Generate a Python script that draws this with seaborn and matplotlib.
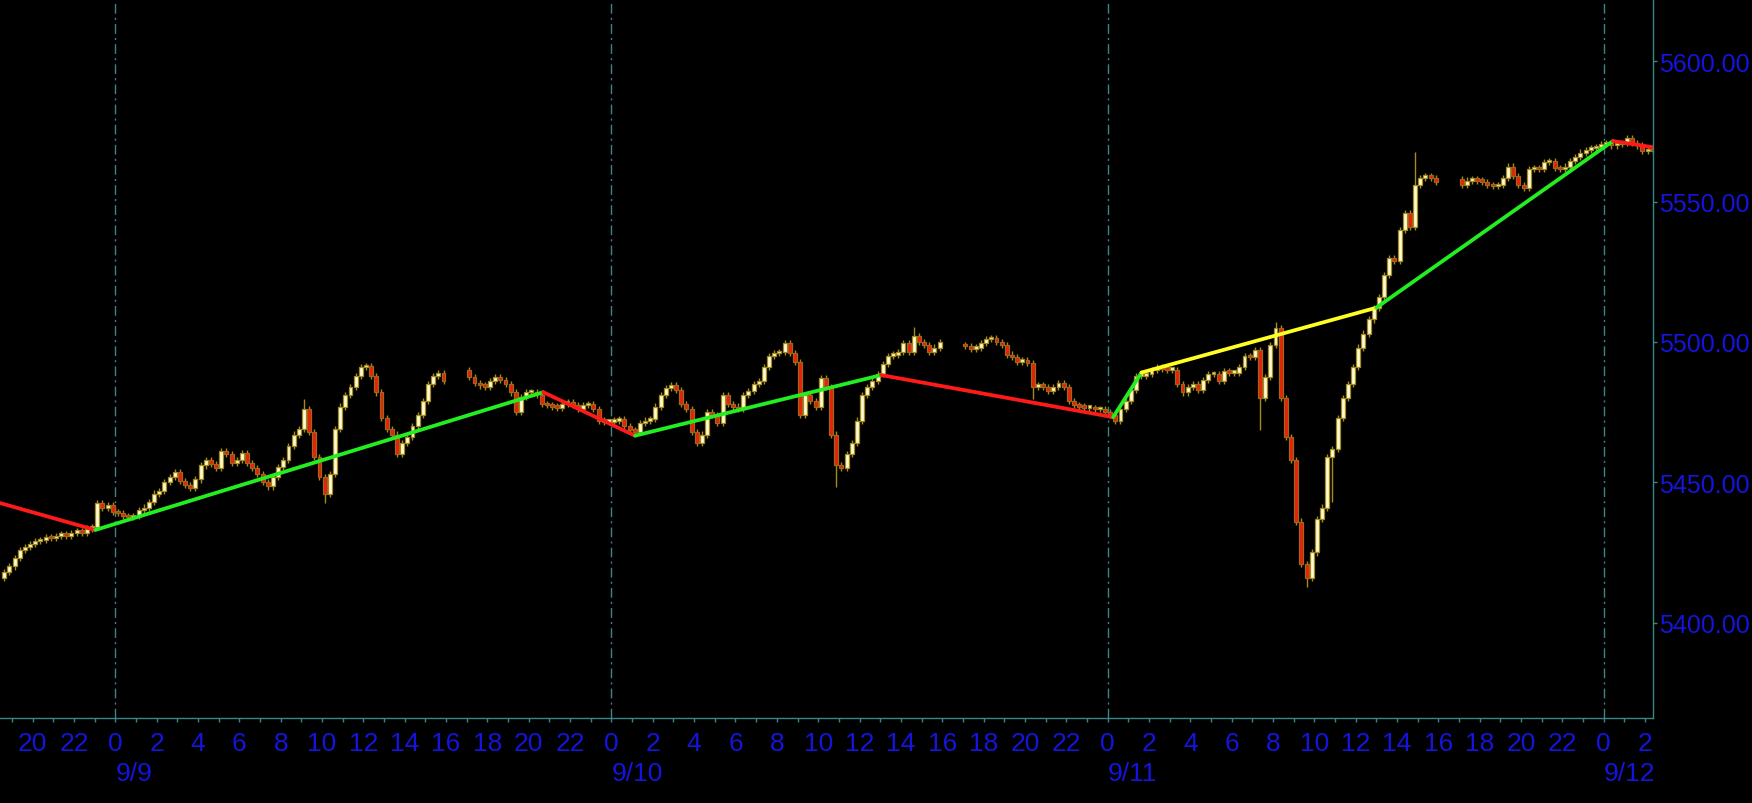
import numpy as np
import pandas as pd
import matplotlib
matplotlib.use("Agg")
import matplotlib.pyplot as plt
import seaborn as sns
from matplotlib import font_manager

# Temps en heures depuis le 9/9 00:00, barres de 15 minutes
SESSION_STARTS = [-5.5, 17.0, 41.0, 65.0]
SESSION_OPENS = [5416.0, 5490.0, 5499.0, 5558.0]

CLOSES_S1 = [
    5418, 5420, 5423, 5426, 5427, 5428, 5429, 5429.5,
    5430.5, 5430, 5431, 5431.5, 5431, 5432, 5432.5, 5432,
    5433.5, 5434, 5442.5, 5441, 5442, 5439.5, 5439, 5438,
    5437.5, 5438, 5440, 5441, 5443, 5446, 5447, 5450,
    5452, 5453.5, 5450.5, 5449, 5448, 5451, 5456, 5458,
    5456.5, 5455, 5461, 5460, 5457, 5458, 5460.5, 5457,
    5455, 5453, 5450, 5448.5, 5452, 5455.5, 5458, 5463,
    5467, 5469, 5476, 5468, 5459, 5452, 5446, 5453,
    5469, 5477, 5481, 5484, 5488, 5491, 5491.5, 5488,
    5482, 5473, 5469, 5467, 5460, 5464, 5466, 5470,
    5474, 5479, 5485, 5488, 5489, 5486,
]
CLOSES_S2 = [
    5487.5, 5485.5, 5484.5, 5484, 5486, 5487.5, 5486.5, 5485,
    5482, 5475, 5480.5, 5482, 5482, 5481, 5478, 5477.5,
    5477, 5476.5, 5478, 5478.5, 5477.5, 5476, 5477.5, 5478,
    5476, 5472, 5471.5, 5471.5, 5472, 5472.5, 5470, 5468.5,
    5468, 5471, 5472, 5472.5, 5477, 5481, 5483.5, 5484.5,
    5483, 5478, 5476, 5468, 5464, 5467, 5475, 5474,
    5471, 5481, 5478, 5477, 5476, 5481, 5482.5, 5485,
    5486, 5491, 5495, 5496, 5496.5, 5499.5, 5496, 5493,
    5474, 5481, 5479, 5477, 5487, 5484, 5467, 5456,
    5455, 5460, 5464, 5472, 5481, 5484, 5486, 5488.5,
    5492, 5495, 5495.5, 5496.5, 5499.5, 5496.5, 5502, 5500,
    5499, 5496.5, 5498, 5500,
]
CLOSES_S3 = [
    5498.5, 5497.5, 5498, 5499.5, 5501, 5501.5, 5500, 5499,
    5495.5, 5494.5, 5493, 5493.5, 5492.5, 5484, 5484.5, 5484,
    5482.5, 5484, 5485.5, 5484, 5479, 5477.5, 5477, 5476.5,
    5476.5, 5476, 5476, 5475, 5474, 5472, 5476, 5479,
    5483, 5488, 5488, 5488.5, 5490, 5491, 5490.5, 5490,
    5490, 5485, 5482, 5484, 5485, 5483, 5486.5, 5488.5,
    5488.5, 5486, 5489.5, 5489, 5489, 5491, 5495, 5494.5,
    5497, 5480, 5487.5, 5499, 5505, 5480, 5466, 5458,
    5436, 5421, 5416, 5425, 5437, 5441, 5459, 5462,
    5473, 5480, 5485, 5491, 5498, 5503, 5508, 5512,
    5516, 5524, 5530, 5529, 5540, 5546, 5541, 5556,
    5558.5, 5559, 5558.5, 5557,
]
CLOSES_S4 = [
    5556, 5557.5, 5558, 5557.5, 5557, 5556, 5555.5, 5556,
    5558.5, 5562.5, 5559, 5556, 5555, 5561.5, 5562, 5561.5,
    5564, 5564.5, 5562, 5561.5, 5562.5, 5564.5, 5566, 5567.5,
    5568.5, 5569, 5569.5, 5570.5, 5571, 5570, 5570.5, 5571,
    5572.5, 5571, 5570, 5568, 5568.5, 5568,
]

# Meches remarquables (fin de barre -> valeur)
HIGH_WICKS = {9.25: 5479.5, 38.75: 5505.5, 56.25: 5507.0, 63.0: 5567.6}
LOW_WICKS = {10.25: 5442.6, 35.0: 5448.4, 44.5: 5479.5, 55.5: 5468.6,
             57.75: 5412.7, 59.0: 5443.0}

# Zigzag
ZZ_TIMES = [-5.58, -0.97, 20.7, 25.14, 37.05, 48.27, 49.64, 61.0, 72.45, 74.45]
ZZ_VALUES = [5442.6, 5433.0, 5482.1, 5466.6, 5488.2, 5473.2, 5489.1, 5512.2, 5571.6, 5569.3]
ZZ_COLORS = ["#ff1a1a", "#22ee22", "#ff1a1a", "#22ee22", "#ff1a1a",
             "#22ee22", "#ffff22", "#22ee22", "#ff1a1a"]

MIDNIGHTS = [0, 24, 48, 72]
DATE_LABELS = ["9/9", "9/10", "9/11", "9/12"]
Y_TICKS = [5400, 5450, 5500, 5550, 5600]

BAR = 0.25
TEAL = "#3b8585"
BLUE = "#1414dc"
W, H = 1752, 804


def build_candles():
    rows = []
    for start, first_open, closes in zip(SESSION_STARTS, SESSION_OPENS,
                                         [CLOSES_S1, CLOSES_S2, CLOSES_S3, CLOSES_S4]):
        opens = [first_open] + closes[:-1]
        for i, (o, c) in enumerate(zip(opens, closes)):
            end = start + BAR * (i + 1)
            rows.append({"end": end, "mid": end - BAR / 2, "open": o, "close": c})
    df = pd.DataFrame(rows)
    top = df[["open", "close"]].max(axis=1)
    bot = df[["open", "close"]].min(axis=1)
    df["high"] = [HIGH_WICKS.get(round(e, 2), t + 1.1) for e, t in zip(df["end"], top)]
    df["low"] = [LOW_WICKS.get(round(e, 2), b - 1.1) for e, b in zip(df["end"], bot)]
    return df


def pick_font():
    names = {f.name for f in font_manager.fontManager.ttflist}
    for name in ["Liberation Sans", "DejaVu Sans"]:
        if name in names:
            return name
    return "DejaVu Sans"


sns.set_style("dark", rc={"axes.facecolor": "black", "figure.facecolor": "black",
                          "axes.grid": False})
font = pick_font()
plt.rcParams["font.family"] = [font, "DejaVu Sans"]

df = build_candles()

fig = plt.figure(figsize=(W / 100, H / 100), dpi=100)
ax = fig.add_axes([0, 1 - 719.3 / H, 1653.3 / W, 719.3 / H])
ax.set_facecolor("black")

for m in MIDNIGHTS:
    ax.axvline(m, color=TEAL, lw=1.0, linestyle=(0, (7, 3, 1.5, 3)), zorder=1)

# bougies
ax.vlines(df["mid"], df["low"], df["high"], color="#a48c1c", lw=1.0, zorder=2)
up = df["close"] >= df["open"]
body = (df["close"] - df["open"]).abs().clip(lower=0.9)
ax.bar(df["mid"][up], body[up], bottom=df["open"][up], width=0.19,
       color="#fffbd6", edgecolor="#a48c1c", linewidth=0.9, zorder=3)
ax.bar(df["mid"][~up], body[~up], bottom=df["close"][~up], width=0.19,
       color="#e8200c", edgecolor="#a0661a", linewidth=0.9, zorder=3)

# zigzag
zz_rows = []
for i in range(len(ZZ_COLORS)):
    zz_rows.append({"t": ZZ_TIMES[i], "v": ZZ_VALUES[i], "seg": i})
    zz_rows.append({"t": ZZ_TIMES[i + 1], "v": ZZ_VALUES[i + 1], "seg": i})
zz = pd.DataFrame(zz_rows)
sns.lineplot(data=zz, x="t", y="v", hue="seg", palette=dict(enumerate(ZZ_COLORS)),
             sort=False, estimator=None, legend=False, lw=2.7, ax=ax, zorder=4)

ax.set_xlim(-5.58, 74.40)
ax.set_ylim(5365.9, 5622.2)
ax.set_xlabel("")
ax.set_ylabel("")

for side in ["left", "top"]:
    ax.spines[side].set_visible(False)
for side in ["right", "bottom"]:
    ax.spines[side].set_visible(True)
    ax.spines[side].set_color(TEAL)
    ax.spines[side].set_linewidth(1.0)

major = np.arange(-4, 75, 2)
ax.set_xticks(major)
ax.set_xticklabels([str(int(h % 24)) for h in major])
ax.set_xticks(np.arange(-5, 75, 1), minor=True)
ax.tick_params(axis="x", which="both", bottom=True, direction="out", length=3,
               width=1, color=TEAL, labelcolor=BLUE, labelsize=19, pad=6)

ax.yaxis.tick_right()
ax.set_yticks(Y_TICKS)
ax.set_yticklabels([f"{v:.2f}" for v in Y_TICKS])
ax.tick_params(axis="y", which="both", right=True, left=False, direction="out",
               length=3, width=1, color=TEAL, labelcolor=BLUE, labelsize=20, pad=1)

for m, lab in zip(MIDNIGHTS, DATE_LABELS):
    ax.annotate(lab, xy=(m, 0), xycoords=("data", "axes fraction"),
                xytext=(0, -43), textcoords="offset pixels",
                ha="left", va="top", color=BLUE, fontsize=19, annotation_clip=False)

# les etiquettes de droite doivent tenir dans l'image
renderer = fig.canvas.get_renderer()
size = 20
while size > 12:
    right = max(t.get_window_extent(renderer).x1 for t in ax.get_yticklabels())
    if right <= W - 2:
        break
    size -= 0.5
    ax.tick_params(axis="y", labelsize=size)

fig.savefig("out.png", dpi=100, facecolor="black")
